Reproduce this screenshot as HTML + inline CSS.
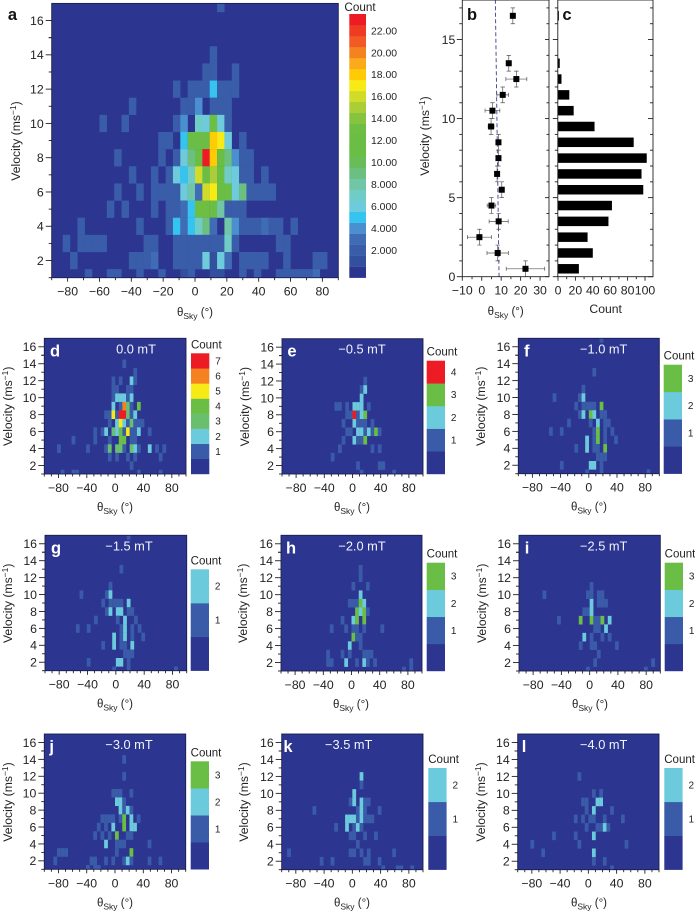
<!DOCTYPE html>
<html lang="en">
<head>
<meta charset="utf-8">
<title>Velocity and angle distributions</title>
<style>
  html,body{margin:0;padding:0;background:#fff;}
  svg{display:block;font-family:"Liberation Sans",Arial,sans-serif;filter:blur(0.3px);}
</style>
</head>
<body>
<svg id="figure" width="695" height="912" viewBox="0 0 695 912" xmlns="http://www.w3.org/2000/svg"></svg>
<script>
// ---------- DATA: heatmaps. Each row = [velocity, thetaBin, count, thetaBin, count, ...] ----------
const heatA = [
  [17, 23,2],
  [14, 22,2],
  [13, 21,2,22,2,25,2],
  [12, 17,2,19,2,20,2,21,2,22,5,23,2,24,2,25,2],
  [11, 11,2,18,2,19,2,20,4,22,2,23,2,24,2],
  [10, 7,2,10,2,17,2,18,4,20,7,21,6,22,13,23,6,24,2],
  [9, 15,2,16,2,18,5,19,12,20,12,21,12,22,18,23,17,24,6,26,2],
  [8, 9,2,15,2,17,2,18,6,19,9,20,11,21,23,22,18,23,12,24,9,25,4,26,2,27,2],
  [7, 11,2,14,2,16,2,17,6,18,5,19,7,20,16,21,12,22,15,23,12,24,7,25,6,26,2,27,2,29,2],
  [6, 9,2,12,2,14,2,15,2,16,2,17,2,18,6,19,8,20,3,21,16,22,17,23,12,24,12,25,6,26,9,27,2,28,2,29,2,30,2],
  [5, 8,2,10,2,14,2,16,2,17,2,18,3,19,5,20,13,21,13,22,12,23,8,24,2,25,2,26,2],
  [4, 4,2,12,2,16,2,17,5,18,3,19,5,20,7,21,9,22,3,24,8,25,4,26,2,27,2,28,2,29,3,30,2,31,2,33,2],
  [3, 2,2,4,2,5,2,6,2,7,2,13,2,14,2,17,2,18,2,19,2,20,2,21,2,22,2,23,2,24,7,25,2,31,2,32,2],
  [2, 3,2,11,2,12,2,13,2,14,3,17,2,18,2,19,2,20,2,21,6,22,1,23,6,24,3,26,2,27,2,28,2,29,2,32,2,36,2,37,2],
  [1, 5,2,8,2,9,2,12,2,15,2,18,1,19,2,22,1,23,1,26,2,28,2,31,2,32,2,33,2,34,2,35,2,36,3]
];
const heatD = [
  [14, 22,1],
  [13, 25,1],
  [12, 19,1,21,1,24,2,25,1],
  [11, 19,1,20,1,23,1,24,1],
  [10, 19,1,20,2,21,2,22,2,23,1,24,2],
  [9, 19,2,21,1,22,6,23,3,24,1,26,4],
  [8, 17,1,18,1,19,5,20,1,21,7,22,7,23,3,24,1,25,2],
  [7, 18,1,20,2,21,5,22,2,23,1,24,3,25,1,26,1,27,1],
  [6, 14,1,16,1,17,2,19,3,20,2,21,4,22,1,23,5,24,1,25,1,26,2,29,1],
  [5, 8,1,14,1,18,1,21,4,22,4,24,1,25,1],
  [4, 4,1,12,1,17,1,18,3,20,3,21,3,22,1,24,3,25,2,26,1,29,2,31,1,33,1],
  [3, 18,1,20,1,23,1,25,1,32,1],
  [2, 24,1],
  [1, 5,1,8,1,9,1,26,1,32,1]
];
const heatE = [
  [12, 23,1],
  [11, 22,1,23,2],
  [10, 22,2],
  [9, 15,1,16,1,18,1,20,2,21,2,22,2,24,1],
  [8, 18,1,19,1,20,4,21,1,22,2,23,3],
  [7, 17,1,20,2,21,1,22,1,23,1,25,1],
  [6, 18,1,19,1,21,2,22,2,23,1,24,2,25,1,26,3,27,1],
  [5, 17,1,20,2,21,1,22,1,23,3],
  [4, 16,1,25,1,27,1],
  [3, 14,1],
  [2, 21,1,27,1,28,1],
  [1, 22,1,31,1]
];
const heatF = [
  [17, 23,1],
  [13, 21,1],
  [11, 18,1],
  [10, 10,1,17,1,18,2],
  [9, 16,1,18,1,19,1,20,1,21,1,23,3],
  [8, 17,1,18,2,20,3,21,2,23,1,24,1],
  [7, 14,1,20,1,22,2,24,1,25,1],
  [6, 9,1,12,1,21,1,22,3,24,1,26,1],
  [5, 19,2,21,1,22,3,24,1,27,1],
  [4, 16,1,19,2,21,1,22,1,24,3],
  [3, 22,1,23,1,24,1],
  [2, 12,1,20,2,21,2,23,1],
  [1, 19,1,23,1,36,1]
];
const heatG = [
  [17, 23,1],
  [13, 21,1],
  [11, 18,1],
  [10, 10,1,17,1,18,2],
  [9, 16,1,18,1,19,1,20,1,21,1,23,2],
  [8, 17,1,18,2,20,2,21,2,23,1,24,1],
  [7, 14,1,20,1,22,2,25,1],
  [6, 9,1,12,1,21,1,22,2,24,1,26,1],
  [5, 19,2,21,1,22,2,24,1,27,1],
  [4, 16,1,19,2,21,1,22,1,24,2],
  [3, 22,1,23,1,24,1],
  [2, 12,1,20,2,21,2,23,1],
  [1, 19,1,23,1,36,1]
];
const heatH = [
  [13, 22,1],
  [12, 22,1],
  [11, 20,1,24,1],
  [10, 22,2],
  [9, 19,1,20,1,21,1,22,3,23,2],
  [8, 21,3,22,2,23,3,24,1],
  [7, 17,1,20,2,21,3,23,3],
  [6, 14,1,18,1,20,1,21,1,23,1,28,1],
  [5, 20,3,21,1,22,1],
  [4, 19,2,22,1],
  [3, 13,1,17,1,19,1,23,1,24,1,25,1],
  [2, 13,1,14,1,18,2,21,1,23,2,24,1,26,1,36,1],
  [1, 34,1,36,1]
];
const heatI = [
  [11, 20,1],
  [10, 7,1,19,1,20,1,22,1,23,1],
  [9, 20,2,22,1,23,1,24,1],
  [8, 18,1,19,1,20,2],
  [7, 11,1,17,3,20,3,21,1,22,1,23,3,25,2],
  [6, 21,1,22,1,24,2],
  [5, 18,2,20,1,23,1,25,1],
  [4, 17,1,20,1,21,1,27,1],
  [3, 22,1],
  [2, 21,1,37,1],
  [1, 19,1,35,1]
];
const heatJ = [
  [14, 22,1],
  [12, 22,1],
  [10, 19,1,20,1,21,1,24,1],
  [9, 20,2,21,2,22,1],
  [8, 21,2,22,1,23,2,24,1],
  [7, 16,1,17,1,18,1,19,1,21,1,22,3,24,2,26,1],
  [6, 15,1,17,1,19,2,22,3,24,2,25,2],
  [5, 14,1,16,1,18,1,20,3,23,1,24,1],
  [4, 17,2,20,1,21,1,22,1,29,1],
  [3, 4,1,5,1,6,1,20,1,24,3],
  [2, 3,1,13,1,14,1,17,1,19,1,22,1,23,2,24,1,29,1,32,1],
  [1, 12,1,14,1,15,1]
];
const heatK = [
  [12, 22,2],
  [11, 22,1],
  [10, 20,2],
  [9, 19,1,20,2,22,2,23,1,24,1],
  [8, 9,1,21,1,22,2,23,1,27,1],
  [7, 18,2,19,2,20,2,21,1,22,2,23,1,24,1,25,1],
  [6, 15,1,18,2,20,1,21,2,22,1],
  [5, 19,1,20,1,23,1,26,1],
  [4, 21,1],
  [3, 2,1,19,1,20,1,22,1,24,1,31,1],
  [2, 11,1,14,1,23,1,24,1,27,1],
  [1, 28,1,32,1,33,1,36,1]
];
const heatL = [
  [12, 17,1],
  [10, 21,1,23,1],
  [9, 18,1,19,1,22,2,23,2],
  [8, 19,1,21,2,26,1],
  [7, 16,1,18,1,20,1,21,1,24,1,29,1],
  [6, 19,1,22,1,23,1,24,2,25,1],
  [5, 10,1,16,1,21,2],
  [4, 4,1,17,1,30,1],
  [3, 7,1,21,2],
  [2, 21,1,24,1],
  [1, 26,1]
];

// ---------- DATA: panels b and c ----------
const binVelocity = [0.5,1.5,2.5,3.5,4.5,5.5,6.5,7.5,8.5,9.5,10.5,11.5,12.5,13.5,16.5];
const thetaMean   = [22.5,8.2,-1.2,8.7,5,10.3,7.9,8.6,8.6,4.8,5.5,10.8,17.8,13.9,16];
const thetaError  = [9.9,5.5,6.2,4.9,2.2,1,1,1,1,1.5,3.8,3,5.4,0.5,0.5];
const velocityError = [0.5,0.5,0.5,0.5,0.5,0.5,0.5,0.5,0.5,0.5,0.5,0.5,0.5,0.5,0.5];
const histCounts  = [24,40,34,58,62,98,96,102,87,42,18,13,4,2,1];
const trendTheta  = [8.9,7];
const trendVelocity = [0,17.5];

// ---------- DATA: ticks ----------
const largeXTickValues = [-80,-60,-40,-20,0,20,40,60,80];
const smallXTickValues = [-80,-40,0,40,80];
const heatYTickValues = [2,4,6,8,10,12,14,16];
const bXTickValues = [-10,0,10,20,30];
const cXTickValues = [0,20,40,60,80,100];
const bYTickValues = [0,5,10,15];
const legendALabels = ["2.000","4.000","6.000","8.000","10.00","12.00","14.00","16.00","18.00","20.00","22.00"];
const legendAValues = [2,4,6,8,10,12,14,16,18,20,22];

// ---------- STYLE ----------
const navy='#2c3590', blue1='#3a5ba8', cyan='#6bcbdc', green='#6abd45', red='#ed1c24';
const paletteA=['#2c3590','#33509f','#3a5da9','#3f6cb4','#4a90d1','#35c3f0','#6dcbdc','#70ccc6','#70c6a6','#6bbf80','#69bd58','#6abd45','#6abd45','#6fbe44','#86c440','#abcd37','#d0dc29','#f7ea16','#ffcb05','#fbaa1c','#f58220','#f15a24','#ef3a24','#ed1c24'];
const palette2=[navy,blue1,cyan];
const palette3=[navy,blue1,cyan,green];
const palette4=[navy,blue1,cyan,green,red];
const palette7=[navy,blue1,cyan,'#6abf6f',green,'#f7ea16','#f58220',red];
const ink='#231f20';
const svg=document.getElementById('figure');
const NS='http://www.w3.org/2000/svg';

function mk(tag,attrs,parent){
  const el=document.createElementNS(NS,tag);
  for(const k in attrs) el.setAttribute(k,attrs[k]);
  parent.appendChild(el);
  return el;
}
function txt(parent,x,y,content,size,anchor,fill,weight){
  const el=mk('text',{x:x,y:y,'font-size':size,'text-anchor':anchor||'middle',fill:fill||ink,'font-weight':weight||'normal'},parent);
  el.innerHTML=content;
  return el;
}
function scale(d0,d1,r0,r1){ return v=>r0+(v-d0)*(r1-r0)/(d1-d0); }
function tickLabel(v){ return v<0 ? '\u2212'+Math.abs(v) : String(v); }

function xTitle(parent,cx,y){
  const el=txt(parent,cx,y,'\u03b8<tspan dy="3" font-size="8.5">Sky</tspan><tspan dy="-3"> (\u00b0)</tspan>',11.5);
  
  
}
function yTitle(parent,x,cy){
  const el=mk('text',{transform:'translate('+x+','+cy+') rotate(-90)','font-size':12.2,'text-anchor':'middle',fill:ink},parent);
  el.innerHTML='Velocity (ms<tspan dy="-4" font-size="8.5">\u22121</tspan><tspan dy="4">)</tspan>';
  
  
}

function drawHeat(g,rows,xs,ys,thetaMin,thetaMax,palette,box){
  const binW=(thetaMax-thetaMin)/39;
  const bg=mk('rect',{x:box.x0,y:box.y0,width:box.x1-box.x0,height:box.y1-box.y0,fill:palette[0]},g);
  
  
  rows.forEach(row=>{
    const v=row[0];
    for(let i=1;i<row.length;i+=2){
      const theta=thetaMin+row[i]*binW;
      const count=row[i+1];
      const x0=Math.max(box.x0,xs(theta-binW/2)), x1=Math.min(box.x1,xs(theta+binW/2));
      const y0=Math.max(box.y0,ys(v+0.5)), y1=Math.min(box.y1,ys(v-0.5));
      const cell=mk('rect',{x:x0,y:y0,width:x1-x0+0.15,height:y1-y0+0.15,fill:palette[Math.min(count,palette.length-1)]},g);
      
      
    }
  });
  const frame=mk('rect',{x:box.x0,y:box.y0,width:box.x1-box.x0,height:box.y1-box.y0,fill:'none',stroke:'#1d1f4d','stroke-width':0.9},g);
  
  
}

function line(g,x1,y1,x2,y2,color,w){
  const el=mk('line',{x1:x1,y1:y1,x2:x2,y2:y2,stroke:color||ink,'stroke-width':w||0.9},g);
  
  
  return el;
}

function heatAxes(g,xs,ys,box,xTicks,xMinorMin,xMinorMax,xMinorStep,size){
  heatYTickValues.forEach(v=>{
    line(g,box.x0-6,ys(v),box.x0,ys(v));
    const t=txt(g,box.x0-8,ys(v)+4.4,String(v),size,'end');
    
    
    line(g,box.x0-3,ys(v-1),box.x0,ys(v-1));
  });
  line(g,box.x0-3,ys(15),box.x0,ys(15));
  for(let a=xMinorMin;a<=xMinorMax;a+=xMinorStep){
    const isMajor=(xTicks.indexOf(a)>=0);
    line(g,xs(a),box.y1,xs(a),box.y1+(isMajor?4:2.5));
  }
  xTicks.forEach(a=>{
    const t=txt(g,xs(a),box.y1+18,tickLabel(a),size);
    
    
  });
}

// ---------- PANEL a ----------
(function(){
  const g=mk('g',{},svg);
  
  
  const box={x0:51.7,x1:338.3,y0:3.4,y1:277.7};
  const xs=scale(-90,90,box.x0,box.x1), ys=scale(1,17,box.y1,box.y0);
  drawHeat(g,heatA,xs,ys,-90,90,paletteA,box);
  heatAxes(g,xs,ys,box,largeXTickValues,-90,90,10,12.3);
  yTitle(g,20,141);
  xTitle(g,195,316);
  const letter=txt(g,12.5,20,'a',16.5,'middle','#111','bold');
  
  
  // legend
  const lx0=349.3,lx1=366,ly0=14,ly1=277.7,bandH=(ly1-ly0)/paletteA.length;
  const lg=mk('g',{},g);
  
  
  paletteA.forEach((c,i)=>{
    const r=mk('rect',{x:lx0,y:ly1-(i+1)*bandH,width:lx1-lx0,height:bandH+0.2,fill:c},lg);
    
    
  });
  legendAValues.forEach((v,i)=>{
    const t=txt(lg,371,ly1-(v+0.5)*bandH+3.8,legendALabels[i],10.4,'start');
    
    
  });
  const ct=txt(lg,360,11,'Count',11.7);
  
  
})();

// ---------- PANEL b ----------
(function(){
  const g=mk('g',{},svg);
  
  
  const box={x0:462.3,x1:549,y0:0,y1:276.7};
  const xs=scale(-10,34.6,box.x0,box.x1), ys=scale(0,17.5,box.y1,box.y0);
  const trend=mk('line',{x1:xs(trendTheta[0]),y1:ys(trendVelocity[0]),x2:xs(trendTheta[1]),y2:ys(trendVelocity[1]),stroke:'#3b3f8f','stroke-width':0.9,'stroke-dasharray':'4 2.5'},g);
  
  
  binVelocity.forEach((v,i)=>{
    const cx=xs(thetaMean[i]), cy=ys(v);
    const xl=xs(thetaMean[i]-thetaError[i]), xr=xs(thetaMean[i]+thetaError[i]);
    const yt=ys(v+velocityError[i]), yb=ys(v-velocityError[i]);
    const eb=mk('path',{d:'M'+xl+' '+cy+'H'+xr+'M'+xl+' '+(cy-2)+'V'+(cy+2)+'M'+xr+' '+(cy-2)+'V'+(cy+2)+'M'+cx+' '+yt+'V'+yb+'M'+(cx-2.2)+' '+yt+'H'+(cx+2.2)+'M'+(cx-2.2)+' '+yb+'H'+(cx+2.2),stroke:'#555','stroke-width':0.7,fill:'none'},g);
    
    
    const m=mk('rect',{x:cx-3,y:cy-3,width:6,height:6,fill:'#000'},g);
    
    
  });
  const fr=mk('path',{d:'M'+box.x0+' '+box.y0+'V'+box.y1+'H'+box.x1+'V'+box.y0+'M'+box.x0+' '+box.y0+'H'+box.x1,stroke:ink,'stroke-width':0.9,fill:'none'},g);
  
  
  for(let v=0;v<=17;v++){
    const maj=v%5===0;
    line(g,box.x0-(maj?5.5:3),ys(v),box.x0,ys(v));
    line(g,box.x1-(maj?4:2.5),ys(v),box.x1,ys(v));
  }
  bYTickValues.forEach(v=>{
    const t=txt(g,box.x0-7,ys(v)+4.4,String(v),12.3,'end');
    
    
  });
  for(let a=-10;a<=30;a+=5){
    line(g,xs(a),box.y1,xs(a),box.y1+(a%10===0?4:2.5));
  }
  bXTickValues.forEach(a=>{
    const t=txt(g,xs(a),box.y1+18,tickLabel(a),12.3);
    
    
  });
  yTitle(g,429,136);
  xTitle(g,505.7,315);
  const letter=txt(g,472,20,'b',16.5,'middle','#111','bold');
  
  
})();

// ---------- PANEL c ----------
(function(){
  const g=mk('g',{},svg);
  
  
  const box={x0:557.8,x1:653,y0:0,y1:276.7};
  const xs=scale(0,100,558,645), ys=scale(0,17.5,box.y1,box.y0);
  binVelocity.forEach((v,i)=>{
    const b=mk('rect',{x:xs(0),y:ys(v+0.3),width:xs(histCounts[i])-xs(0),height:ys(v-0.3)-ys(v+0.3),fill:'#000'},g);
    
    
  });
  const fr=mk('rect',{x:box.x0,y:box.y0,width:box.x1-box.x0,height:box.y1-box.y0,fill:'none',stroke:ink,'stroke-width':0.9},g);
  
  
  for(let v=0;v<=17;v++){
    const maj=v%5===0;
    line(g,box.x0-(maj?5:3),ys(v),box.x0,ys(v));
    line(g,box.x1-(maj?5:3),ys(v),box.x1,ys(v));
  }
  for(let a=0;a<=100;a+=10){
    line(g,xs(a),box.y1,xs(a),box.y1+(a%20===0?4:2.5));
  }
  cXTickValues.forEach(a=>{
    const t=txt(g,xs(a),box.y1+18,String(a),12.3);
    
    
  });
  const ct=txt(g,605.7,313,'Count',12.2);
  
  
  const letter=txt(g,567,20,'c',16.5,'middle','#111','bold');
  
  
})();

// ---------- SMALL PANELS ----------
function smallPanel(name,letterText,titleText,rows,palette,layout){
  const g=mk('g',{},svg);
  
  
  const box={x0:layout.x0,x1:layout.x1,y0:layout.y0,y1:layout.y1};
  const xs=scale(-100,100,box.x0,box.x1), ys=scale(1,17,box.y1,box.y0);
  drawHeat(g,rows,xs,ys,-100,100,palette,box);
  heatAxes(g,xs,ys,box,smallXTickValues,-100,100,10,12.3);
  yTitle(g,layout.yTitleX,box.y0+68);
  xTitle(g,layout.xTitleX,box.y1+37);
  const letter=txt(g,layout.letterX,box.y0+18,letterText,16.5,'middle','#fff','bold');
  
  
  const title=txt(g,layout.titleX,box.y0+15,titleText,12.8,'middle','#f2f4fb');
  
  
  const lg=mk('g',{},g);
  
  
  const bandH=(box.y1-layout.legendTop)/palette.length;
  palette.forEach((c,i)=>{
    const r=mk('rect',{x:layout.legendX,y:box.y1-(i+1)*bandH,width:18.3,height:bandH+0.2,fill:c},lg);
    
    
    if(i>0){
      const t=txt(lg,layout.legendX+27,box.y1-(i+0.5)*bandH+3.5,String(i),10,'middle');
      
      
    }
  });
  const ct=txt(lg,layout.legendX+15.3,layout.legendTop-5,'Count',11.5);
  
  
}

smallPanel('panel-d','d','0.0 mT',heatD,palette7,{x0:44.3,x1:186,y0:338.3,y1:474,yTitleX:12,xTitleX:115,letterX:55,titleX:136,legendX:191,legendTop:353.3});
smallPanel('panel-e','e','\u22120.5 mT',heatE,palette4,{x0:282,x1:423,y0:338.7,y1:474,yTitleX:249,xTitleX:352,letterX:292,titleX:362,legendX:426.7,legendTop:360.7});
smallPanel('panel-f','f','\u22121.0 mT',heatF,palette3,{x0:518.3,x1:659.3,y0:338.3,y1:473.7,yTitleX:485,xTitleX:589,letterX:526.7,titleX:603.7,legendX:663.7,legendTop:364.7});
smallPanel('panel-g','g','\u22121.5 mT',heatG,palette2,{x0:45,x1:186.7,y0:535.3,y1:670.7,yTitleX:12,xTitleX:115,letterX:56,titleX:129,legendX:190.7,legendTop:569.3});
smallPanel('panel-h','h','\u22122.0 mT',heatH,palette3,{x0:281,x1:422,y0:535.3,y1:671,yTitleX:247,xTitleX:351,letterX:291,titleX:362,legendX:426.7,legendTop:562.7});
smallPanel('panel-i','i','\u22122.5 mT',heatI,palette3,{x0:519,x1:660.3,y0:535.3,y1:671,yTitleX:486,xTitleX:590,letterX:527,titleX:603.7,legendX:664.7,legendTop:562.7});
smallPanel('panel-j','j','\u22123.0 mT',heatJ,palette3,{x0:44.3,x1:185.7,y0:734,y1:869.3,yTitleX:12,xTitleX:115,letterX:51.7,titleX:129,legendX:190.7,legendTop:761.3});
smallPanel('panel-k','k','\u22123.5 mT',heatK,palette2,{x0:281.7,x1:423,y0:734,y1:869.7,yTitleX:248,xTitleX:352,letterX:288,titleX:348.7,legendX:428.3,legendTop:768});
smallPanel('panel-l','l','\u22124.0 mT',heatL,palette2,{x0:517.7,x1:659,y0:734,y1:869.7,yTitleX:485,xTitleX:589,letterX:524,titleX:603.7,legendX:664.3,legendTop:768});
</script>
</body>
</html>
